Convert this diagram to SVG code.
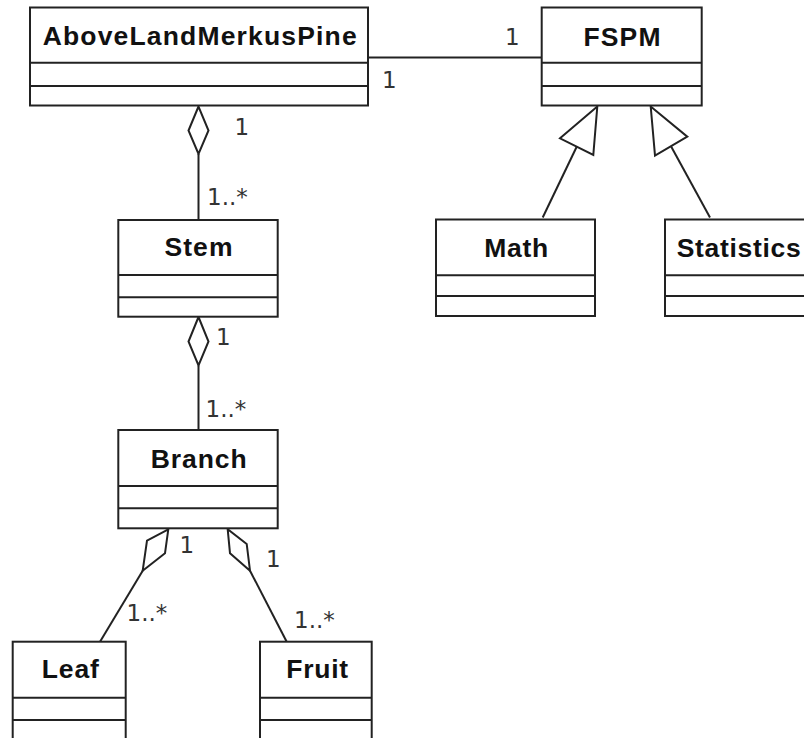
<svg xmlns="http://www.w3.org/2000/svg" width="804" height="738" viewBox="0 0 804 738">
<style>
.box{fill:#fff;stroke:#222;stroke-width:2}
.div{stroke:#222;stroke-width:2;fill:none}
.title{font-family:"Liberation Sans",Arial,sans-serif;font-weight:bold;font-size:26.5px;fill:#111;text-anchor:middle}
.lbl{font-family:"DejaVu Sans",sans-serif;font-size:23px;fill:#333}
.edge{stroke:#222;stroke-width:2;fill:none}
.dia{stroke:#222;stroke-width:2;fill:#fff}
</style>
<rect width="804" height="738" fill="#fff"/>
<g id="connectors">
  <line class="edge" x1="368" y1="57.5" x2="541.5" y2="57.5"/>
  <line class="edge" x1="198.5" y1="154" x2="198.5" y2="220"/>
  <polygon class="dia" points="198.5,106.5 188.5,130.5 198.5,154 208.5,130.5"/>
  <line class="edge" x1="198.5" y1="365.5" x2="198.5" y2="430"/>
  <polygon class="dia" points="198.5,317 188.5,341.5 198.5,365.5 208.5,341.5"/>
  <line class="edge" x1="142.7" y1="570.7" x2="100" y2="641.7"/>
  <polygon class="dia" points="168.3,529.3 147,540.7 142.7,570.7 165,553.3"/>
  <line class="edge" x1="250" y1="570.7" x2="286.7" y2="641.7"/>
  <polygon class="dia" points="227.7,529.3 230,553.3 250,570.7 246.7,544"/>
  <line class="edge" x1="542.7" y1="217.5" x2="576.7" y2="146.7"/>
  <polygon class="dia" points="597.3,106.5 560,138.3 593.3,155"/>
  <line class="edge" x1="710" y1="217.5" x2="671" y2="146.2"/>
  <polygon class="dia" points="650.7,106.5 655,155.7 687.3,136.7"/>
  <text class="lbl" x="505" y="45">1</text>
  <text class="lbl" x="382" y="88">1</text>
  <text class="lbl" x="234.5" y="135">1</text>
  <text class="lbl" x="207" y="205">1..*</text>
  <text class="lbl" x="216" y="345">1</text>
  <text class="lbl" x="205.5" y="416.7">1..*</text>
  <text class="lbl" x="179.5" y="553.3">1</text>
  <text class="lbl" x="126.5" y="621">1..*</text>
  <text class="lbl" x="266" y="566.7">1</text>
  <text class="lbl" x="294" y="628.3">1..*</text>
</g>
<g id="AboveLandMerkusPine">
  <rect class="box" x="30" y="7.5" width="338" height="98"/>
  <line class="div" x1="30" y1="62.7" x2="368" y2="62.7"/>
  <line class="div" x1="30" y1="86" x2="368" y2="86"/>
  <text class="title" x="199.7" y="44.5" textLength="314">AboveLandMerkusPine</text>
</g>
<g id="FSPM">
  <rect class="box" x="541.7" y="7.5" width="160" height="98"/>
  <line class="div" x1="541.7" y1="62.7" x2="701.7" y2="62.7"/>
  <line class="div" x1="541.7" y1="86" x2="701.7" y2="86"/>
  <text class="title" x="622" y="45.5" textLength="77">FSPM</text>
</g>
<g id="Math">
  <rect class="box" x="436" y="219.5" width="159" height="96.5"/>
  <line class="div" x1="436" y1="275.3" x2="595" y2="275.3"/>
  <line class="div" x1="436" y1="296" x2="595" y2="296"/>
  <text class="title" x="516.2" y="256.5" textLength="64">Math</text>
</g>
<g id="Statistics">
  <rect class="box" x="665" y="219.5" width="160" height="96.5"/>
  <line class="div" x1="665" y1="275.3" x2="825" y2="275.3"/>
  <line class="div" x1="665" y1="296" x2="825" y2="296"/>
  <text class="title" x="738.7" y="256.5" textLength="124">Statistics</text>
</g>
<g id="Stem">
  <rect class="box" x="118.3" y="220" width="159.4" height="96.7"/>
  <line class="div" x1="118.3" y1="275" x2="277.7" y2="275"/>
  <line class="div" x1="118.3" y1="297.3" x2="277.7" y2="297.3"/>
  <text class="title" x="198.5" y="256" textLength="68">Stem</text>
</g>
<g id="Branch">
  <rect class="box" x="118.3" y="430" width="159.4" height="98.3"/>
  <line class="div" x1="118.3" y1="486" x2="277.7" y2="486"/>
  <line class="div" x1="118.3" y1="508.3" x2="277.7" y2="508.3"/>
  <text class="title" x="198.7" y="467.7" textLength="96">Branch</text>
</g>
<g id="Leaf">
  <rect class="box" x="12.7" y="641.7" width="113" height="98"/>
  <line class="div" x1="12.7" y1="697.7" x2="125.7" y2="697.7"/>
  <line class="div" x1="12.7" y1="720" x2="125.7" y2="720"/>
  <text class="title" x="70.3" y="678.3" textLength="57">Leaf</text>
</g>
<g id="Fruit">
  <rect class="box" x="260" y="641.7" width="111.7" height="98"/>
  <line class="div" x1="260" y1="697.7" x2="371.7" y2="697.7"/>
  <line class="div" x1="260" y1="720" x2="371.7" y2="720"/>
  <text class="title" x="317.2" y="678.3" textLength="62">Fruit</text>
</g>
</svg>
